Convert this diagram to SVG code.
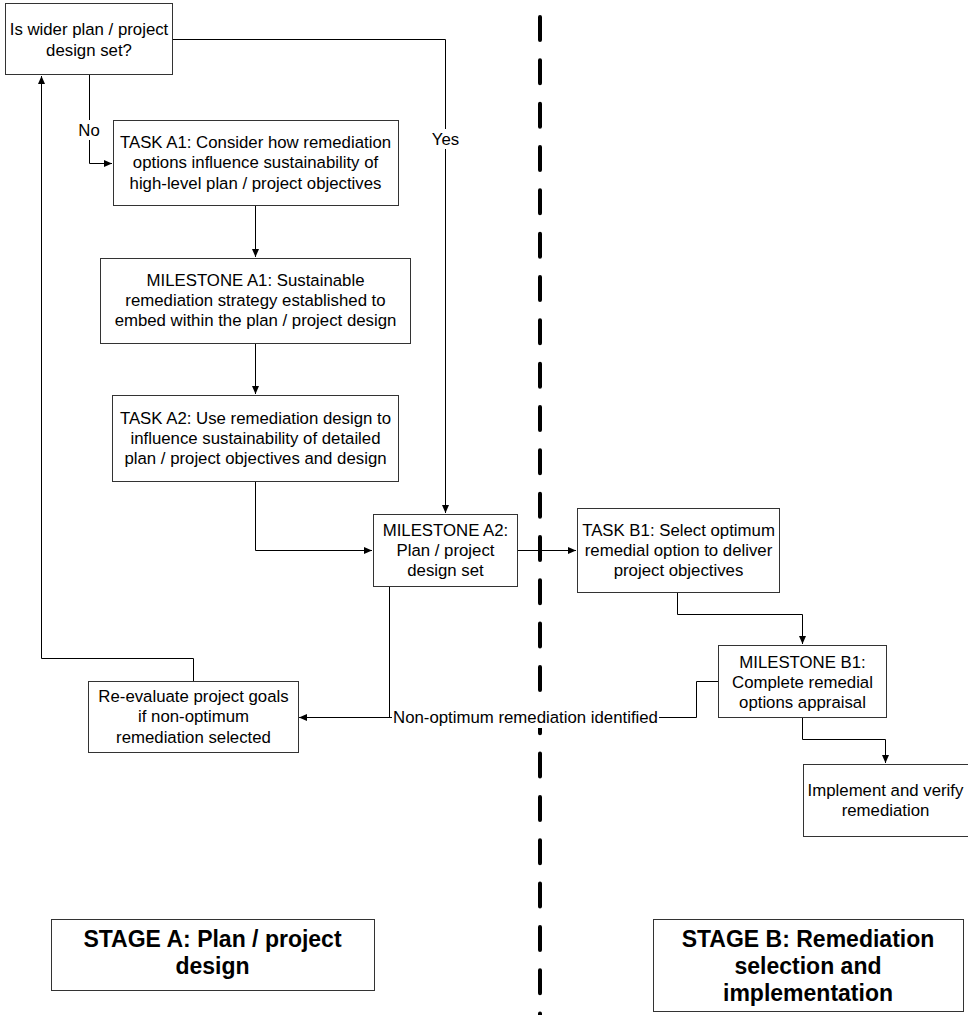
<svg xmlns="http://www.w3.org/2000/svg" width="968" height="1015" viewBox="0 0 968 1015">
<style>
.box{fill:#fff;stroke:#333;stroke-width:1}
.t{font-family:"Liberation Sans",Arial,sans-serif;font-size:16.8px;fill:#000;text-anchor:middle}
.s{font-family:"Liberation Sans",Arial,sans-serif;font-size:23px;font-weight:bold;fill:#000;text-anchor:middle}
.c{fill:none;stroke:#000;stroke-width:1}
.bg{fill:#fff}
</style>
<defs>
<marker id="ah" markerUnits="userSpaceOnUse" markerWidth="9" markerHeight="8" refX="8" refY="3.5" orient="auto">
<path d="M0,0 L8,3.5 L0,7 z" fill="#000"/>
</marker>
</defs>
<rect width="968" height="1015" fill="#fff"/>
<line x1="540" y1="17" x2="540" y2="1015" stroke="#000" stroke-width="4" stroke-linecap="round" stroke-dasharray="23 20.33"/>
<g id="connectors">
<path class="c" d="M172,39.5 H445.5 V513" marker-end="url(#ah)"/>
<path class="c" d="M89.5,75 V163.5 H112" marker-end="url(#ah)"/>
<path class="c" d="M255.5,205 V257" marker-end="url(#ah)"/>
<path class="c" d="M255.5,343 V394" marker-end="url(#ah)"/>
<path class="c" d="M255.5,481 V550.5 H372" marker-end="url(#ah)"/>
<path class="c" d="M517,550.5 H576" marker-end="url(#ah)"/>
<path class="c" d="M677.5,592 V614.5 H802.5 V644" marker-end="url(#ah)"/>
<path class="c" d="M802.5,717 V739.5 H885.5 V763" marker-end="url(#ah)"/>
<path class="c" d="M389.5,586 V717.5"/>
<path class="c" d="M718,681.5 H696.5 V717.5 H299" marker-end="url(#ah)"/>
<path class="c" d="M193.5,681 V658.5 H41.5 V76" marker-end="url(#ah)"/>
<rect class="bg" x="77" y="120" width="25" height="20"/>
<text class="t" x="89" y="136">No</text>
<rect class="bg" x="430" y="129" width="31" height="20"/>
<text class="t" x="445.5" y="145">Yes</text>
<rect class="bg" x="392" y="707" width="267" height="21"/>
<text class="t" x="525.5" y="722.5">Non-optimum remediation identified</text>
</g>
<g id="q1">
<rect class="box" x="5.5" y="3.5" width="167" height="71"/>
<text class="t" x="89" y="35">Is wider plan / project</text>
<text class="t" x="89" y="55.5">design set?</text>
</g>
<g id="taskA1">
<rect class="box" x="113.5" y="120.5" width="285" height="85"/>
<text class="t" x="255.5" y="147.5">TASK A1: Consider how remediation</text>
<text class="t" x="255.5" y="168">options influence sustainability of</text>
<text class="t" x="255.5" y="188.5">high-level plan / project objectives</text>
</g>
<g id="milestoneA1">
<rect class="box" x="100.5" y="258.5" width="310" height="85"/>
<text class="t" x="255.5" y="286">MILESTONE A1: Sustainable</text>
<text class="t" x="255.5" y="306">remediation strategy established to</text>
<text class="t" x="255.5" y="326">embed within the plan / project design</text>
</g>
<g id="taskA2">
<rect class="box" x="112.5" y="395.5" width="286" height="86"/>
<text class="t" x="255.5" y="424">TASK A2: Use remediation design to</text>
<text class="t" x="255.5" y="444">influence sustainability of detailed</text>
<text class="t" x="255.5" y="464">plan / project objectives and design</text>
</g>
<g id="milestoneA2">
<rect class="box" x="373.5" y="514.5" width="144" height="72"/>
<text class="t" x="445.5" y="536">MILESTONE A2:</text>
<text class="t" x="445.5" y="556">Plan / project</text>
<text class="t" x="445.5" y="575.5">design set</text>
</g>
<g id="taskB1">
<rect class="box" x="577.5" y="508.5" width="202" height="84"/>
<text class="t" x="678.5" y="536">TASK B1: Select optimum</text>
<text class="t" x="678.5" y="556">remedial option to deliver</text>
<text class="t" x="678.5" y="576">project objectives</text>
</g>
<g id="milestoneB1">
<rect class="box" x="718.5" y="645.5" width="168" height="72"/>
<text class="t" x="802.5" y="668">MILESTONE B1:</text>
<text class="t" x="802.5" y="688">Complete remedial</text>
<text class="t" x="802.5" y="708">options appraisal</text>
</g>
<g id="implement">
<rect class="box" x="803.5" y="764.5" width="166" height="72"/>
<text class="t" x="885.5" y="796">Implement and verify</text>
<text class="t" x="885.5" y="816">remediation</text>
</g>
<g id="reevaluate">
<rect class="box" x="88.5" y="681.5" width="210" height="71"/>
<text class="t" x="193.5" y="702">Re-evaluate project goals</text>
<text class="t" x="193.5" y="722">if non-optimum</text>
<text class="t" x="193.5" y="743">remediation selected</text>
</g>
<g id="stageA">
<rect class="box" x="51.5" y="919.5" width="323" height="71"/>
<text class="s" x="212.5" y="947">STAGE A: Plan / project</text>
<text class="s" x="212.5" y="974">design</text>
</g>
<g id="stageB">
<rect class="box" x="653.5" y="919.5" width="310" height="92"/>
<text class="s" x="808" y="947">STAGE B: Remediation</text>
<text class="s" x="808" y="974">selection and</text>
<text class="s" x="808" y="1001">implementation</text>
</g>
</svg>
